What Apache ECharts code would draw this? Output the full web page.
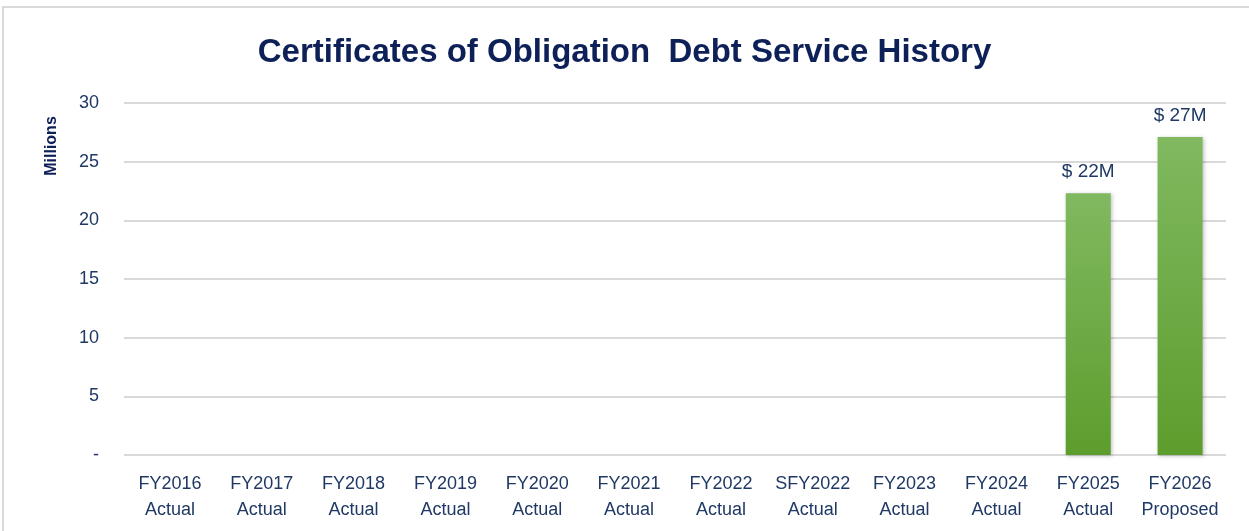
<!DOCTYPE html>
<html><head><meta charset="utf-8">
<script src="https://cdn.jsdelivr.net/npm/echarts@6/dist/echarts.min.js"></script>
<style>html,body{margin:0;padding:0;background:#fff}#c{width:1249px;height:531px}</style>
</head><body><div id="c"></div>
<script>
const categories = ['FY2016\nActual','FY2017\nActual','FY2018\nActual','FY2019\nActual','FY2020\nActual','FY2021\nActual','FY2022\nActual','SFY2022\nActual','FY2023\nActual','FY2024\nActual','FY2025\nActual','FY2026\nProposed'];
const values = [null,null,null,null,null,null,null,null,null,null,22.3,27.1];
const barLabels = ['','','','','','','','','','','$ 22M','$ 27M'];
const yTicks = [0,5,10,15,20,25,30];

const navy = '#1f3864';
const font = '"Liberation Sans",sans-serif';
const chart = echarts.init(document.getElementById('c'));
chart.setOption({
  animation:false,
  title:{text:'Certificates of Obligation  Debt Service History',left:'center',top:31,
    textStyle:{fontFamily:font,fontSize:33,fontWeight:'bold',color:'#0d2057'}},
  graphic:[
    {type:'rect',shape:{x:3,y:7,width:1260,height:540},style:{fill:'none',stroke:'#d9d9d9',lineWidth:2},silent:true},
    {type:'text',x:52,y:146,rotation:Math.PI/2,silent:true,
      style:{text:'Millions',fill:'#0d2057',font:'bold 16px "Liberation Sans",sans-serif',align:'center',verticalAlign:'middle'}}
  ],
  grid:{left:124,right:23,top:103,bottom:76},
  xAxis:{type:'category',data:categories,
    axisLine:{show:false},axisTick:{show:false},
    axisLabel:{color:navy,fontFamily:font,fontSize:18,lineHeight:26,margin:16,interval:0}},
  yAxis:{type:'value',min:0,max:30,interval:5,
    axisLine:{show:false},axisTick:{show:false},
    splitLine:{lineStyle:{color:'#d9d9d9',width:2}},
    axisLabel:{color:navy,fontFamily:font,fontSize:18,margin:25,
      formatter:v=>v===0?'-':String(v)}},
  series:[{type:'bar',data:values.map((v,i)=>({value:v,label:{formatter:barLabels[i]}})),
    barWidth:'49%',
    itemStyle:{color:new echarts.graphic.LinearGradient(0,0,0,1,[{offset:0,color:'#80b960'},{offset:1,color:'#5d9d2d'}]),
      shadowColor:'rgba(0,0,0,0.25)',shadowBlur:4,shadowOffsetX:1,shadowOffsetY:1},
    label:{show:true,position:'top',distance:12,color:navy,fontFamily:font,fontSize:19}}]
});
</script></body></html>
